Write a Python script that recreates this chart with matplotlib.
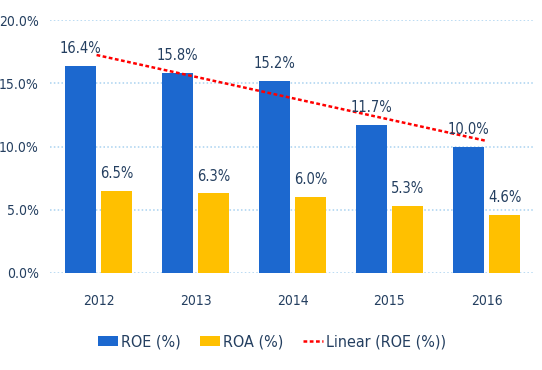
import matplotlib
matplotlib.use("Agg")
import matplotlib.pyplot as plt
import numpy as np

years = ["2012", "2013", "2014", "2015", "2016"]
roe = [16.4, 15.8, 15.2, 11.7, 10.0]
roa = [6.5, 6.3, 6.0, 5.3, 4.6]
yticks = [0, 5, 10, 15, 20]

plt.rcParams['font.family'] = ['DejaVu Sans']
plt.rcParams['font.stretch'] = 'condensed'
txt = '#243f60'

fig = plt.figure(figsize=(5.42, 3.70), dpi=100)
ax = fig.add_axes([50/542, 1-273/370, 485/542, (273-20)/370])

x = np.arange(len(years))
w = 0.32
off = 0.19
b1 = ax.bar(x - off, roe, w, color='#1c68cf', label='ROE (%)', zorder=3)
b2 = ax.bar(x + off, roa, w, color='#ffc000', label='ROA (%)', zorder=3)

for xi, v in zip(x, roe):
    ax.annotate(f"{v:.1f}%", (xi - off, v), xytext=(0, 7), textcoords='offset points',
                ha='center', va='bottom', fontsize=10.5, color=txt, zorder=5)
for xi, v in zip(x, roa):
    ax.annotate(f"{v:.1f}%", (xi + off, v), xytext=(0, 7), textcoords='offset points',
                ha='center', va='bottom', fontsize=10.5, color=txt, zorder=5)

coef = np.polyfit(x, roe, 1)
xs = np.array([x[0] - 0.02, x[-1]])
ax.plot(xs, np.polyval(coef, xs), linestyle=(0, (1.5, 1)), color='#ff0000', lw=1.8,
        label='Linear (ROE (%))', zorder=4)

ax.set_xlim(-0.5, 4.5)
ax.set_ylim(0, 20)
ax.set_yticks(yticks)
ax.set_yticklabels([f"{t:.1f}%" for t in yticks], fontsize=10, color=txt)
ax.set_xticks(x)
ax.set_xticklabels(years, fontsize=10, color=txt)
ax.tick_params(length=0, pad=8)
ax.tick_params(axis='x', pad=15)
for s in ax.spines.values():
    s.set_visible(False)
ax.grid(axis='y', linestyle=(0, (1, 1.5)), color='#a9d2f0', lw=1.1, zorder=0)

handles = [b1, b2, ax.lines[0]]
leg = fig.legend(handles, ['ROE (%)', 'ROA (%)', 'Linear (ROE (%))'], loc='center',
                 bbox_to_anchor=(272/542, 1-342/370), ncol=3, frameon=False,
                 fontsize=11.5, handlelength=1.25, handleheight=0.55, handletextpad=0.2,
                 columnspacing=1.2)
for t in leg.get_texts():
    t.set_color(txt)

fig.savefig('out.png', dpi=100)
